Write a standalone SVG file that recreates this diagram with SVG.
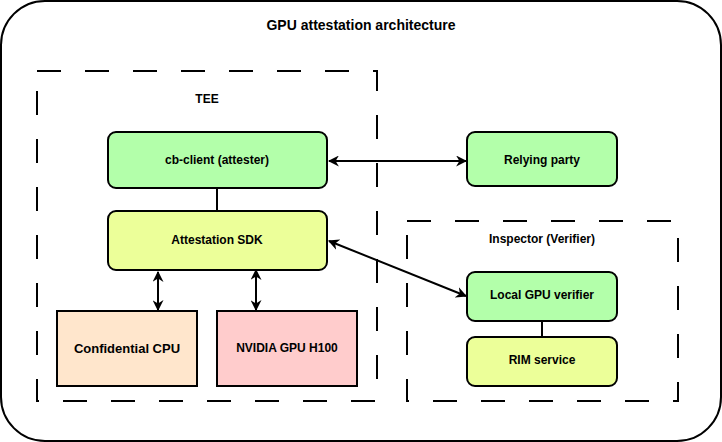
<svg xmlns="http://www.w3.org/2000/svg" width="722" height="442" viewBox="0 0 722 442">
<style>
text{font-family:"Liberation Sans",Arial,sans-serif;font-weight:bold;font-size:12px;text-anchor:middle;fill:#000}
.box{stroke:#000;stroke-width:2}
.green{fill:#b3ffaa}
.yellow{fill:#ecff99}
.dash{fill:none;stroke:#000;stroke-width:2;stroke-dasharray:24 24}
.edge{fill:none;stroke:#000;stroke-width:2}
</style>
<defs>
<marker id="ah" viewBox="0 0 10 10" refX="9" refY="5" markerWidth="11" markerHeight="11" orient="auto-start-reverse" markerUnits="userSpaceOnUse">
<path d="M0,0 L10,5 L0,10 L3,5 z" fill="#000"/>
</marker>
</defs>
<g id="frame">
<rect x="1" y="1" width="720" height="440" rx="44" ry="44" fill="#fff" stroke="#000" stroke-width="2"/>
<text x="361" y="30" style="font-size:14px">GPU attestation architecture</text>
</g>
<g id="tee">
<rect class="dash" x="37" y="71" width="340" height="330"/>
<text x="207" y="103">TEE</text>
</g>
<g id="inspector">
<rect class="dash" x="407" y="221" width="271" height="180"/>
<text x="542" y="243">Inspector (Verifier)</text>
</g>
<g id="connectors">
<line class="edge" x1="217" y1="188" x2="217" y2="211"/>
<line class="edge" x1="542" y1="321" x2="542" y2="337"/>
<line class="edge" x1="329" y1="161" x2="466" y2="161" marker-start="url(#ah)" marker-end="url(#ah)"/>
<line class="edge" x1="329" y1="241" x2="466" y2="296" marker-start="url(#ah)" marker-end="url(#ah)"/>
<line class="edge" x1="158" y1="272" x2="158" y2="310" marker-start="url(#ah)" marker-end="url(#ah)"/>
<line class="edge" x1="256" y1="270" x2="256" y2="310" marker-start="url(#ah)" marker-end="url(#ah)"/>
</g>
<g id="cb-client">
<rect class="box green" x="108" y="132" width="219" height="56" rx="8"/>
<text x="217" y="164">cb-client (attester)</text>
</g>
<g id="attestation-sdk">
<rect class="box yellow" x="108" y="211" width="219" height="59" rx="8"/>
<text x="217" y="244">Attestation SDK</text>
</g>
<g id="confidential-cpu">
<rect class="box" x="57" y="311" width="140" height="75" fill="#ffe6cc"/>
<text x="127" y="353" style="font-size:13px">Confidential CPU</text>
</g>
<g id="nvidia-gpu">
<rect class="box" x="217" y="311" width="140" height="75" fill="#ffcccc"/>
<text x="287" y="352">NVIDIA GPU H100</text>
</g>
<g id="relying-party">
<rect class="box green" x="467" y="132" width="150" height="54" rx="8"/>
<text x="542" y="164">Relying party</text>
</g>
<g id="local-gpu-verifier">
<rect class="box green" x="467" y="272" width="150" height="49" rx="8"/>
<text x="542" y="299">Local GPU verifier</text>
</g>
<g id="rim-service">
<rect class="box yellow" x="467" y="337" width="150" height="49" rx="8"/>
<text x="542" y="364">RIM service</text>
</g>
</svg>
